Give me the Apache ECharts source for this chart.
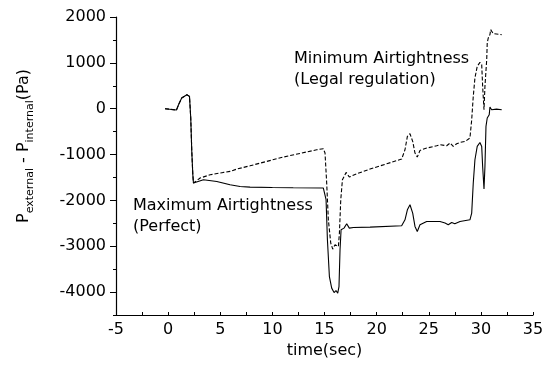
<!DOCTYPE html>
<html>
<head>
<meta charset="utf-8">
<script src="https://cdn.jsdelivr.net/npm/echarts@6/dist/echarts.min.js"></script>
<style>
html,body{margin:0;padding:0;background:#fff;}
#chart{width:551px;height:376px;}
</style>
</head>
<body>
<div id="chart"></div>
<script>
// Maximum Airtightness (Perfect) - solid line
const maxTime = [-0.3, 0.8, 1.0, 1.3, 1.8, 2.05, 2.17, 2.27, 2.37, 2.43, 3.39, 4.67, 5.94, 6.9, 7.86, 10, 12, 14.89,
  15.15, 15.28, 15.47, 15.69, 15.92, 16.1, 16.27, 16.39, 16.49, 16.59, 16.87, 17.13, 17.38, 17.77, 19.37, 22.4,
  22.72, 22.95, 23.2, 23.46, 23.68, 23.9, 24.16, 24.8, 26.08, 26.56, 26.87, 27.2, 27.5, 28.0, 28.95, 29.12, 29.27,
  29.43, 29.65, 29.91, 30.08, 30.17, 30.3, 30.39, 30.49, 30.61, 30.8, 30.87, 31.03, 31.5, 32.0];
const maxPressure = [0, -30, 87, 233, 305, 268, -203, -932, -1441, -1622, -1550, -1587, -1659, -1696, -1710, -1720, -1725, -1731,
  -1986, -2860, -3661, -3914, -4010, -3966, -4024, -3879, -3078, -2641, -2605, -2510, -2605, -2590, -2583, -2554,
  -2423, -2205, -2096, -2277, -2568, -2678, -2532, -2460, -2460, -2495, -2532, -2482, -2510, -2460, -2423, -2277, -1622,
  -1113, -823, -736, -823, -1260, -1753, -1260, -386, -203, -131, 37, -22, -10, -22];

// Minimum Airtightness (Legal regulation) - dashed line
const minTime = [-0.3, 0.8, 1.0, 1.3, 1.8, 2.05, 2.17, 2.27, 2.37, 2.43, 3.07, 4.03, 5.3, 5.94, 6.59, 7.86, 11.05, 14.26, 14.89,
  15.05, 15.21, 15.37, 15.6, 15.79, 16.01, 16.33, 16.43, 16.56, 16.72, 17.07, 17.38, 18.09, 19.37, 20.97, 22.4,
  22.72, 22.95, 23.2, 23.46, 23.68, 23.9, 24.16, 24.8, 25.76, 26.08, 26.72, 27.04, 27.35, 27.68, 28.0, 28.5, 28.95,
  29.12, 29.27, 29.43, 29.65, 29.91, 30.08, 30.17, 30.3, 30.39, 30.56, 30.61, 30.71, 30.87, 30.94, 31.19, 31.99];
const minPressure = [0, -30, 87, 233, 305, 268, -203, -932, -1441, -1622, -1513, -1441, -1390, -1368, -1317, -1245, -1055, -895, -873,
  -967, -1622, -2423, -2932, -3063, -2969, -3005, -2714, -1987, -1550, -1390, -1491, -1419, -1317, -1201, -1099,
  -895, -604, -546, -713, -967, -1055, -910, -859, -808, -786, -808, -749, -823, -764, -736, -714, -640,
  -240, 268, 670, 923, 1010, 960, 487, -22, 487, 1070, 1434, 1543, 1616, 1725, 1637, 1616];

const annotations = [
  {text: 'Minimum Airtightness\n(Legal regulation)'},
  {text: 'Maximum Airtightness\n(Perfect)'}
];

const FONT = 'DejaVu Sans';
const pairs = (xs, ys) => xs.map((x, i) => [x, ys[i]]);

const chart = echarts.init(document.getElementById('chart'), null, {renderer: 'canvas'});
chart.setOption({
  animation: false,
  backgroundColor: '#fff',
  textStyle: {fontFamily: FONT, color: '#000'},
  grid: {left: 116, right: 18, top: 17, bottom: 61, containLabel: false, outerBoundsMode: 'none'},
  xAxis: {
    type: 'value', min: -5, max: 35, interval: 5,
    name: 'time(sec)', nameLocation: 'middle', nameGap: 24,
    nameTextStyle: {fontFamily: FONT, fontSize: 16, color: '#000'},
    axisLine: {onZero: false, lineStyle: {color: '#000', width: 1.2}},
    axisTick: {inside: true, length: 3, lineStyle: {color: '#000'}},
    minorTick: {show: true, splitNumber: 2, length: 3, lineStyle: {color: '#000'}},
    axisLabel: {fontFamily: FONT, fontSize: 16, color: '#000', margin: 7, formatter: v => String(v)},
    splitLine: {show: false}
  },
  yAxis: [{
    type: 'value', min: -4500, max: 2000, minInterval: 1000, maxInterval: 1000, splitNumber: 6,
    name: '{m|P}{s|external}{m| - P}{s|internal}{m|(Pa)}',
    nameLocation: 'middle', nameRotate: 90, nameGap: 80,
    nameTextStyle: {
      fontFamily: FONT, color: '#000', padding: [0, 0, 0, 40],
      rich: {
        m: {fontFamily: FONT, fontSize: 16, color: '#000', verticalAlign: 'top'},
        s: {fontFamily: FONT, fontSize: 11, color: '#000', verticalAlign: 'top', padding: [9, 0, 0, 0]}
      }
    },
    axisLine: {onZero: false, lineStyle: {color: '#000', width: 1.2}},
    axisTick: {length: 6, lineStyle: {color: '#000'}},
    axisLabel: {fontFamily: FONT, fontSize: 16, color: '#000', margin: 10, showMinLabel: false, formatter: v => String(v)},
    splitLine: {show: false}
  }, {
    type: 'value', min: -4500, max: 2000, interval: 500, position: 'left',
    axisLine: {show: false, onZero: false},
    axisTick: {show: true, length: 3, lineStyle: {color: '#000'}},
    axisLabel: {show: false},
    splitLine: {show: false}
  }],
  graphic: [
    {type: 'text', x: 294, y: 48, style: {text: annotations[0].text, fontFamily: FONT, fontSize: 16, lineHeight: 21, fill: '#000'}},
    {type: 'text', x: 133, y: 195, style: {text: annotations[1].text, fontFamily: FONT, fontSize: 16, lineHeight: 21, fill: '#000'}}
  ],
  series: [
    {
      name: 'Maximum Airtightness (Perfect)', type: 'line', showSymbol: false,
      data: pairs(maxTime, maxPressure),
      lineStyle: {color: '#000', width: 1.1, type: 'solid'}
    },
    {
      name: 'Minimum Airtightness (Legal regulation)', type: 'line', showSymbol: false,
      data: pairs(minTime, minPressure),
      lineStyle: {color: '#000', width: 1.1, type: [4, 2]}
    }
  ]
});
</script>
</body>
</html>
